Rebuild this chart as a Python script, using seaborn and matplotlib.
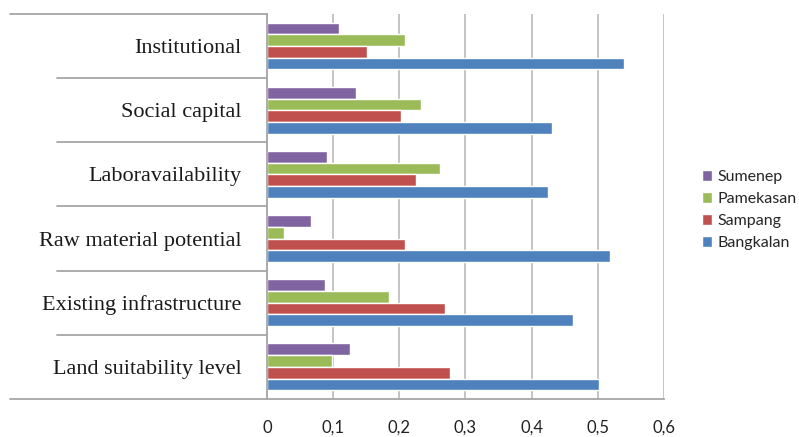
import matplotlib
matplotlib.use("Agg")
import matplotlib.pyplot as plt
from matplotlib.ticker import FuncFormatter
import seaborn as sns
import pandas as pd

# Datos
factores = ["Institutional", "Social capital", "Laboravailability",
            "Raw material potential", "Existing infrastructure", "Land suitability level"]
regiones = ["Sumenep", "Pamekasan", "Sampang", "Bangkalan"]
sumenep = [0.109, 0.135, 0.091, 0.067, 0.088, 0.126]
pamekasan = [0.208, 0.233, 0.262, 0.026, 0.184, 0.098]
sampang = [0.152, 0.203, 0.226, 0.208, 0.269, 0.276]
bangkalan = [0.540, 0.431, 0.425, 0.519, 0.463, 0.502]
colores = ["#8064A2", "#9BBB59", "#C0504D", "#4F81BD"]

df = pd.DataFrame({"Sumenep": sumenep, "Pamekasan": pamekasan,
                   "Sampang": sampang, "Bangkalan": bangkalan}, index=factores)
df = df.reset_index(names="factor").melt(id_vars="factor", var_name="region", value_name="valor")

sns.set_style("white")
fig = plt.figure(figsize=(7.99, 4.37), dpi=100)
ax = fig.add_axes([0.334, 0.087, 0.497, 0.881])

sns.barplot(data=df, y="factor", x="valor", hue="region", order=factores,
            hue_order=regiones, palette=colores, saturation=1, width=0.73, ax=ax)

n = len(factores)
ax.set_ylim(n - 0.5, -0.5)
ax.set_xlim(0, 0.6)
ax.set_xticks([0, 0.1, 0.2, 0.3, 0.4, 0.5, 0.6])
ax.xaxis.set_major_formatter(FuncFormatter(lambda v, p: "0" if v == 0 else f"{v:.1f}".replace(".", ",")))
ax.xaxis.grid(True, color="#BFBFBF", lw=1.3)
ax.set_axisbelow(True)
ax.set_xlabel("")
ax.set_ylabel("")

for s in ["top", "right"]:
    ax.spines[s].set_visible(False)
for s in ["left", "bottom"]:
    ax.spines[s].set_color("#A6A6A6")
    ax.spines[s].set_linewidth(1.3)

ax.tick_params(axis="x", length=3, color="#BFBFBF", width=1.3, pad=12, labelsize=12)
ax.tick_params(axis="y", length=0, pad=18, labelsize=16)
for t in ax.get_yticklabels():
    t.set_fontfamily("Liberation Serif")
    t.set_color("#1a1a1a")
    t.set_va("center_baseline")
for t in ax.get_xticklabels():
    t.set_fontfamily("Lato")
    t.set_color("#222222")

# lineas separadoras a la izquierda
tr = ax.get_yaxis_transform()
for i in range(n + 1):
    y = i - 0.5
    x0 = -0.647 if i in (0, n) else -0.529
    ax.plot([x0, 0], [y, y], transform=tr, color="#A6A6A6", lw=1.3, clip_on=False)

handles, labels = ax.get_legend_handles_labels()
ax.get_legend().remove()
fig.legend(handles, labels, loc="center left", bbox_to_anchor=(0.86, 0.519),
           frameon=False, handlelength=0.65, handleheight=0.65, handletextpad=0.35,
           labelspacing=0.5, prop={"family": "Lato", "size": 11.5})

fig.savefig("out.png", dpi=100)
